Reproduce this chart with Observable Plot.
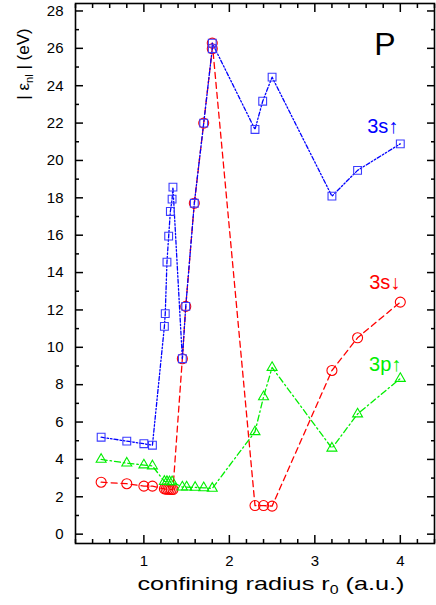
<!DOCTYPE html>
<html><head><meta charset="utf-8">
<script src="https://cdn.jsdelivr.net/npm/d3@7"></script>
<script src="https://cdn.jsdelivr.net/npm/@observablehq/plot@0.6"></script>
<style>
body{margin:0;background:#fff;}
svg{display:block;font-family:"Liberation Sans",Arial,sans-serif;}
</style>
</head><body><div id="chart"></div>
<script>
// ---- data ----
const radiusUp3s = [0.5, 0.8, 1.0, 1.1, 1.24, 1.25, 1.27, 1.29, 1.31, 1.33, 1.34, 1.45, 1.49, 1.59, 1.7, 1.8, 1.8, 2.3, 2.39, 2.5, 3.2, 3.5, 4.0];
const energyUp3s = [5.19, 4.98, 4.84, 4.76, 11.12, 11.8, 14.56, 15.95, 17.27, 17.93, 18.57, 9.39, 12.19, 17.71, 22.0, 25.98, 26.28, 21.66, 23.17, 24.46, 18.09, 19.47, 20.89];

const radiusDown3s = [0.5, 0.8, 1.0, 1.1, 1.24, 1.26, 1.28, 1.3, 1.32, 1.34, 1.45, 1.49, 1.59, 1.7, 1.8, 1.8, 2.3, 2.4, 2.5, 3.2, 3.5, 4.0];
const energyDown3s = [2.78, 2.70, 2.57, 2.57, 2.42, 2.41, 2.40, 2.40, 2.39, 2.39, 9.39, 12.19, 17.71, 22.0, 25.98, 26.28, 1.53, 1.53, 1.50, 8.76, 10.51, 12.42];

const radiusUp3p = [0.5, 0.8, 1.0, 1.1, 1.24, 1.27, 1.3, 1.33, 1.45, 1.5, 1.6, 1.7, 1.8, 2.3, 2.4, 2.5, 3.2, 3.5, 4.0];
const energyUp3p = [4.0, 3.8, 3.7, 3.65, 2.82, 2.81, 2.8, 2.8, 2.52, 2.52, 2.5, 2.48, 2.45, 5.48, 7.35, 8.92, 4.6, 6.43, 8.33];

const seriesNames = ["3s\u2191", "3s\u2193", "3p\u2191"];
const panelLabel = "P";
const xTickValues = [1, 2, 3, 4];
const yTickValues = [0, 2, 4, 6, 8, 10, 12, 14, 16, 18, 20, 22, 24, 26, 28];
const xMinorTickValues = [0.2, 0.4, 0.6, 0.8, 1.2, 1.4, 1.6, 1.8, 2.2, 2.4, 2.6, 2.8, 3.2, 3.4, 3.6, 3.8, 4.2, 4.4];
const yMinorTickValues = [1, 3, 5, 7, 9, 11, 13, 15, 17, 19, 21, 23, 25, 27];

const toRows = (xs, ys) => xs.map((x, i) => ({x, y: ys[i]}));
const up3s = toRows(radiusUp3s, energyUp3s);
const down3s = toRows(radiusDown3s, energyDown3s);
const up3p = toRows(radiusUp3p, energyUp3p);

const BLUE = "#0000ff", RED = "#ff0000", GREEN = "#00ee00";
const blank = () => "";

const tickAxes = [];
for (const anchor of ["bottom", "top"]) {
  tickAxes.push(Plot.axisX({anchor, ticks: xTickValues, tickSize: -8, tickFormat: blank, label: null, strokeWidth: 1.5}));
  tickAxes.push(Plot.axisX({anchor, ticks: xMinorTickValues, tickSize: -4, tickFormat: blank, label: null, strokeWidth: 1.5}));
}
for (const anchor of ["left", "right"]) {
  tickAxes.push(Plot.axisY({anchor, ticks: yTickValues, tickSize: -8, tickFormat: blank, label: null, strokeWidth: 1.5}));
  tickAxes.push(Plot.axisY({anchor, ticks: yMinorTickValues, tickSize: -4, tickFormat: blank, label: null, strokeWidth: 1.5}));
}

const chart = Plot.plot({
  width: 436,
  height: 605,
  marginTop: 3,
  marginRight: 2,
  marginBottom: 62,
  marginLeft: 75,
  style: {fontFamily: "Liberation Sans, Arial, sans-serif", background: "#fff", color: "#000"},
  x: {domain: [0.2, 4.4]},
  y: {domain: [-0.5, 28.4]},
  marks: [
    Plot.axisX({anchor: "bottom", ticks: xTickValues, tickSize: 0, tickPadding: 12, fontSize: 15, label: null, tickFormat: d => String(d)}),
    Plot.axisY({anchor: "left", ticks: yTickValues, tickSize: 0, tickPadding: 12, fontSize: 15, label: null, tickFormat: d => String(d)}),
    ...tickAxes,
    // 3s down (red)
    Plot.line(down3s, {x: "x", y: "y", stroke: RED, strokeWidth: 1.3, strokeDasharray: "6,4"}),
    Plot.dot(down3s, {x: "x", y: "y", r: 5, stroke: RED, fill: "none", strokeWidth: 1.1}),
    // 3p up (green)
    Plot.line(up3p, {x: "x", y: "y", stroke: GREEN, strokeWidth: 1.3, strokeDasharray: "6,3,1.5,3"}),
    Plot.dot(up3p, {x: "x", y: "y", r: 3.7, symbol: "triangle", stroke: GREEN, fill: "none", strokeWidth: 1.1}),
    // 3s up (blue)
    Plot.line(up3s, {x: "x", y: "y", stroke: BLUE, strokeWidth: 1.3, strokeDasharray: "4,2,1.5,2,1.5,2"}),
    Plot.dot(up3s, {x: "x", y: "y", r: 4.4, symbol: "square", stroke: "#3b3bff", fill: "none", strokeWidth: 1.1}),
    // series labels next to the last point of each series
    Plot.text([up3s[up3s.length - 1]], {x: "x", y: "y", text: () => seriesNames[0], fill: BLUE, fontSize: 20, textAnchor: "end", lineAnchor: "bottom", dx: -2, dy: -11}),
    Plot.text([down3s[down3s.length - 1]], {x: "x", y: "y", text: () => seriesNames[1], fill: RED, fontSize: 20, textAnchor: "end", lineAnchor: "bottom", dx: 0, dy: -13}),
    Plot.text([up3p[up3p.length - 1]], {x: "x", y: "y", text: () => seriesNames[2], fill: GREEN, fontSize: 20, textAnchor: "end", lineAnchor: "bottom", dx: 1, dy: -8}),
    Plot.text([panelLabel], {frameAnchor: "top-right", text: d => d, fontSize: 32, textAnchor: "end", lineAnchor: "top", dx: -39, dy: 29}),
    Plot.frame({stroke: "#000", strokeWidth: 1.6})
  ]
});

const svg = d3.select(chart);
// y-axis title: | ε_nl | (eV)
const yt = svg.append("text")
  .attr("transform", "translate(29,64) rotate(-90)")
  .attr("text-anchor", "middle")
  .attr("font-size", 17)
  .attr("fill", "#000");
yt.append("tspan").text("| \u03b5");
yt.append("tspan").attr("font-size", 11).attr("dy", 4).text("nl");
yt.append("tspan").attr("dy", -4).text(" | (eV)");
// x-axis title: confining radius r_0 (a.u.)
const xt = svg.append("text")
  .attr("x", 271)
  .attr("y", 590)
  .attr("text-anchor", "middle")
  .attr("font-size", 19)
  .attr("textLength", 267)
  .attr("lengthAdjust", "spacingAndGlyphs")
  .attr("fill", "#000");
xt.append("tspan").text("confining radius r");
xt.append("tspan").attr("font-size", 12).attr("dy", 4).text("0");
xt.append("tspan").attr("dy", -4).text(" (a.u.)");

document.getElementById("chart").appendChild(chart);
</script>
</body></html>
